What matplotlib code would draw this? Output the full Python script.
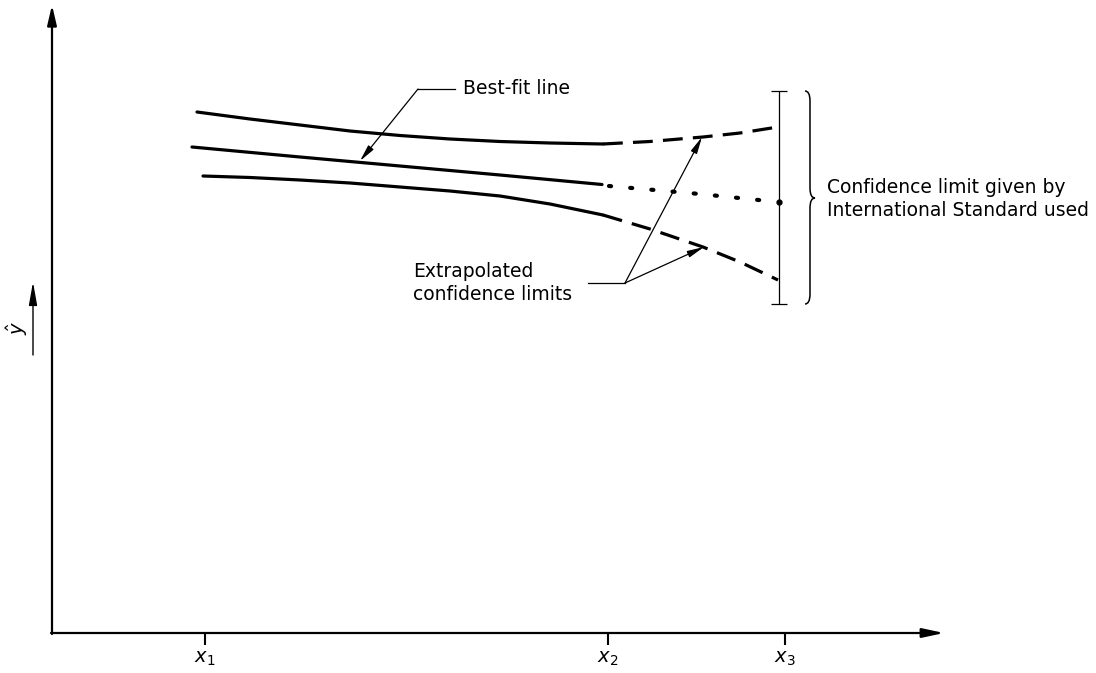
import matplotlib
matplotlib.use('Agg')
import matplotlib.pyplot as plt
from matplotlib.path import Path
from matplotlib.patches import PathPatch

# Schematic drawn in a page-like coordinate system (x right, y down)
# Axis geometry
origin = (52, 633)
y_axis_top = 5
x_axis_end = 944

# Tick positions and labels along x
tick_x = [205, 608, 785]
tick_labels = [r'$x_1$', r'$x_2$', r'$x_3$']

# Upper confidence limit: measured part, then extrapolated part
upper_x = [197, 250, 300, 350, 400, 450, 500, 550, 603]
upper_y = [112, 119, 125, 131, 135.5, 139, 141.5, 143, 144]
upper_ext_x = [603, 650, 703, 740, 778]
upper_ext_y = [144, 141.5, 137, 133, 127]

# Best-fit line: measured part, then extrapolated part
fit_x = [192, 300, 400, 500, 602]
fit_y = [147, 157, 166, 175, 184.5]
fit_ext_x = [609, 700, 778]
fit_ext_y = [186, 194, 202]

# Lower confidence limit: measured part, then extrapolated part
lower_x = [203, 250, 300, 350, 400, 450, 500, 550, 603]
lower_y = [176, 177.5, 180, 183, 187, 191, 196, 204, 215]
lower_ext_x = [603, 650, 703, 740, 778]
lower_ext_y = [215, 229, 247, 262, 280]

# Confidence limit from the standard at x3
ci_x = 779
ci_mid = 202
ci_top = 91
ci_bottom = 304

fig = plt.figure(figsize=(10.96, 6.73), dpi=100)
ax = fig.add_axes([0, 0, 1, 1])
ax.set_xlim(0, 1096)
ax.set_ylim(673, 0)
ax.axis('off')

ink = 'black'
font = 'DejaVu Sans'
fs = 13.5

# axes with arrow heads
ax.annotate('', xy=(origin[0], y_axis_top), xytext=(origin[0], origin[1] + 1),
            arrowprops=dict(arrowstyle='-|>,head_length=1.2,head_width=0.28',
                            lw=1.6, color=ink, shrinkA=0, shrinkB=0))
ax.annotate('', xy=(x_axis_end, origin[1]), xytext=(origin[0] - 1, origin[1]),
            arrowprops=dict(arrowstyle='-|>,head_length=1.3,head_width=0.28',
                            lw=1.6, color=ink, shrinkA=0, shrinkB=0))

# ticks and labels
ax.vlines(tick_x, origin[1], origin[1] + 12, color=ink, lw=1.5)
for tx, lab in zip(tick_x, tick_labels):
    ax.text(tx, 659, lab, ha='center', va='center', fontsize=14, color=ink)

# y-hat label with arrow
ax.text(17, 328, r'$\hat{y}$', rotation=90, ha='center', va='center', fontsize=14, color=ink)
ax.annotate('', xy=(33, 282), xytext=(33, 355),
            arrowprops=dict(arrowstyle='-|>,head_length=1.4,head_width=0.25',
                            lw=1.0, color=ink, shrinkA=0, shrinkB=0))

# curves
lw = 2.3
ax.plot(upper_x, upper_y, color=ink, lw=lw, solid_capstyle='round')
ax.plot(upper_ext_x, upper_ext_y, color=ink, lw=lw, linestyle=(0, (6.2, 3.2)))
ax.plot(fit_x, fit_y, color=ink, lw=lw, solid_capstyle='round')
ax.plot(fit_ext_x, fit_ext_y, color=ink, lw=3.0, linestyle=(0, (0.5, 4.6)),
        dash_capstyle='round')
ax.plot(lower_x, lower_y, color=ink, lw=lw, solid_capstyle='round')
ax.plot(lower_ext_x, lower_ext_y, color=ink, lw=lw, linestyle=(0, (6.2, 3.2)))

# confidence bar from the standard
ax.errorbar([ci_x], [ci_mid], yerr=[[ci_mid - ci_top], [ci_bottom - ci_mid]],
            fmt='o', ms=3.5, color=ink, ecolor=ink, elinewidth=0.9,
            capsize=5.5, capthick=0.9)

# curly brace
bx, tip = 805, 815
verts = [(bx, ci_top), (bx + 5, ci_top), (bx + 5, ci_top + 10),
         (bx + 5, ci_mid - 14),
         (bx + 5, ci_mid - 4), (tip, ci_mid - 4),
         (bx + 5, ci_mid - 4), (bx + 5, ci_mid + 6),
         (bx + 5, ci_bottom - 10),
         (bx + 5, ci_bottom), (bx, ci_bottom)]
codes = [Path.MOVETO, Path.CURVE3, Path.CURVE3, Path.LINETO,
         Path.CURVE3, Path.CURVE3, Path.CURVE3, Path.CURVE3,
         Path.LINETO, Path.CURVE3, Path.CURVE3]
ax.add_patch(PathPatch(Path(verts, codes), fill=False, lw=1.1, color=ink))
ax.text(827, 199, 'Confidence limit given by\nInternational Standard used',
        ha='left', va='center', fontsize=fs, family=font, linespacing=1.25, color=ink)

# leader: best-fit line
thin = dict(arrowstyle='-|>,head_length=1.0,head_width=0.2', lw=0.9,
            color=ink, shrinkA=0, shrinkB=0)
ax.plot([418, 455], [89, 89], color=ink, lw=0.9)
ax.annotate('', xy=(360, 161), xytext=(418, 89), arrowprops=thin)
ax.text(463, 88, 'Best-fit line', ha='left', va='center', fontsize=fs,
        family=font, color=ink)

# leader: extrapolated confidence limits
ax.plot([588, 625], [283, 283], color=ink, lw=0.9)
ax.annotate('', xy=(702, 137), xytext=(625, 283), arrowprops=thin)
ax.annotate('', xy=(704, 247), xytext=(625, 283), arrowprops=thin)
ax.text(413, 283, 'Extrapolated\nconfidence limits', ha='left', va='center',
        fontsize=fs, family=font, linespacing=1.25, color=ink)

fig.savefig('out.png', dpi=100, facecolor='white')
